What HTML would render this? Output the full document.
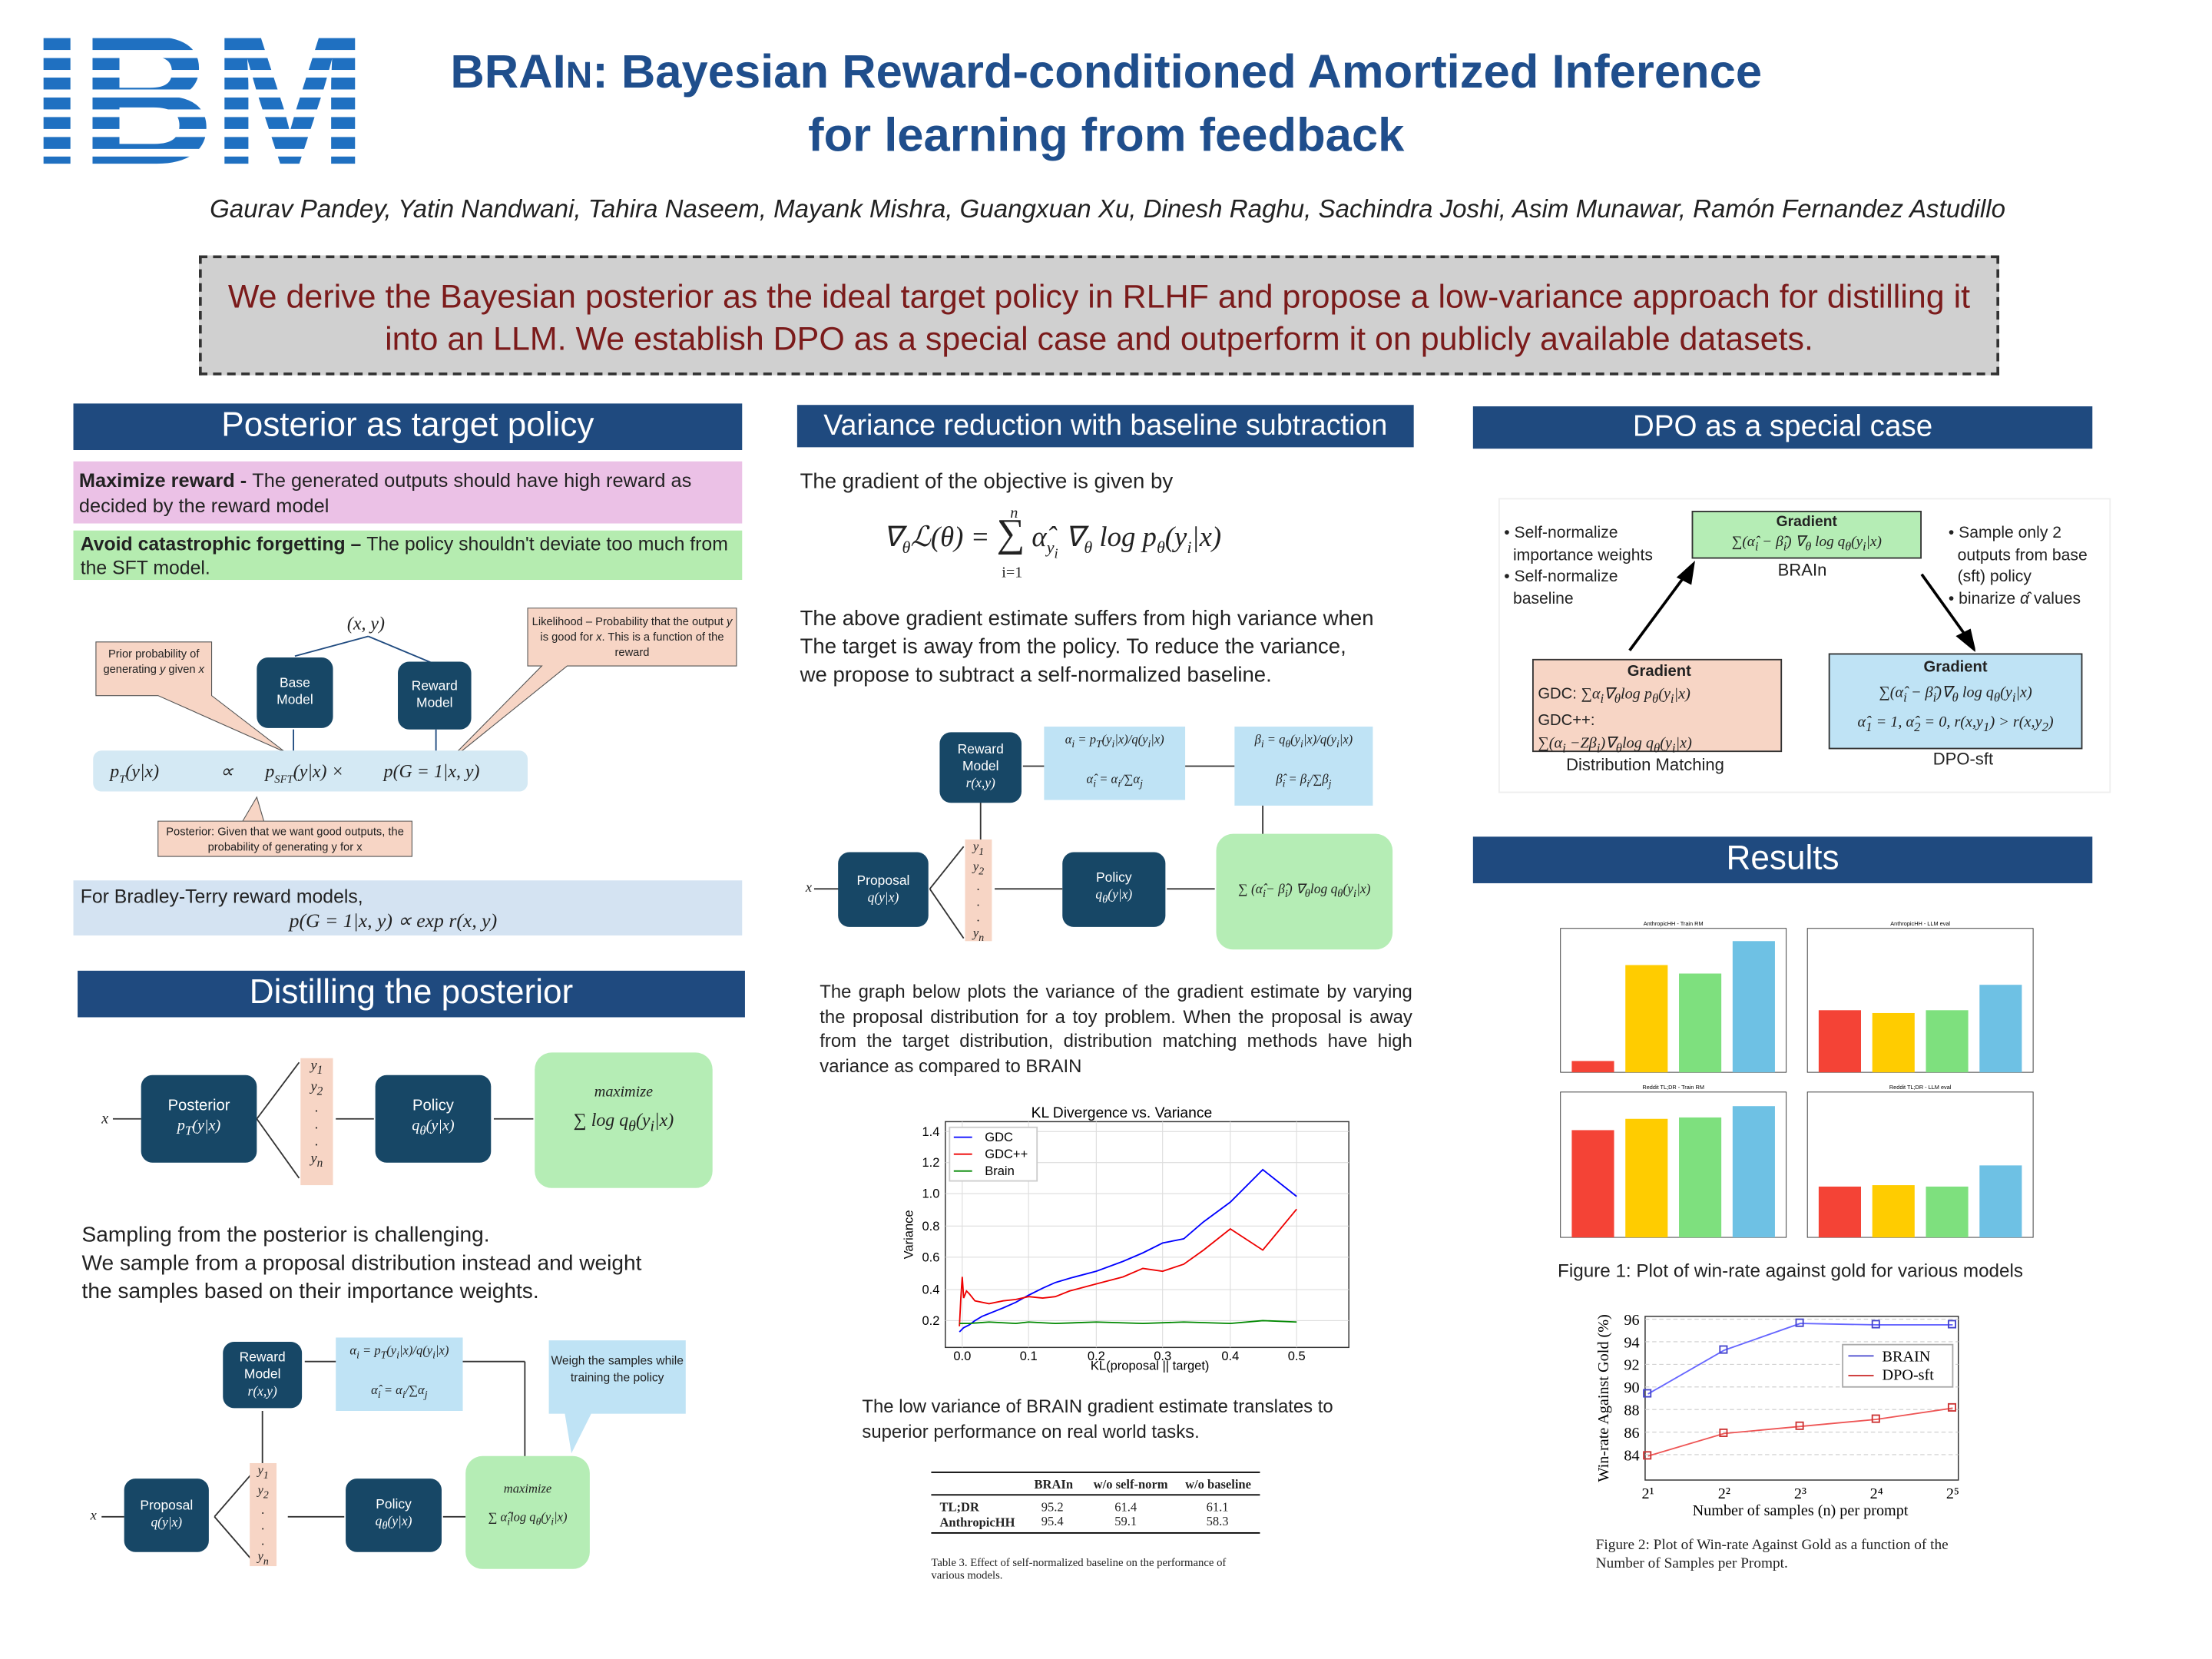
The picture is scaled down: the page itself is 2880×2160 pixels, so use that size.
<!DOCTYPE html>
<html><head><meta charset="utf-8">
<style>
html,body{margin:0;padding:0;background:#fff;}
body{width:2880px;height:2160px;overflow:hidden;}
#p{position:absolute;left:0;top:0;width:1568px;height:1176px;transform:scale(1.837);transform-origin:0 0;font-family:"Liberation Sans",sans-serif;color:#222;}
.a{position:absolute;}
.hd{position:absolute;background:#1f4a7f;color:#fff;text-align:center;font-size:23px;line-height:32px;}
.nd{position:absolute;background:#174766;color:#fff;border-radius:8px;text-align:center;font-size:9.5px;display:flex;align-items:center;justify-content:center;flex-direction:column;line-height:12px;}
.bl{position:absolute;background:#bfe3f5;font-size:9px;font-family:"Liberation Serif",serif;text-align:center;}
.gr{position:absolute;background:#b5edb5;border-radius:12px;font-family:"Liberation Serif",serif;text-align:center;font-size:11px;}
.ys{position:absolute;background:#f7d5c5;font-family:"Liberation Serif",serif;font-style:italic;font-size:10px;text-align:center;line-height:12px;}
.sr{font-family:"Liberation Serif",serif;}
.t15{font-size:15px;line-height:20px;}
</style></head><body><div id="p">
<!-- IBM logo -->
<div class="a" style="left:22px;top:10px;width:232px;height:122px;font-weight:bold;font-size:131px;letter-spacing:-2px;line-height:122px;font-family:'Liberation Sans',sans-serif;background:repeating-linear-gradient(#1f70c1 0 8.5px,#fff 8.5px 14px);background-position:0 17px;-webkit-background-clip:text;background-clip:text;color:transparent;transform:scaleX(1.01);transform-origin:0 0;">IBM</div>
<div class="a" style="left:240px;top:30px;width:1088px;text-align:center;color:#1f4e8c;font-weight:bold;font-size:33.5px;line-height:44px;">BRAI<span style="font-size:26px">N</span>: Bayesian Reward-conditioned Amortized Inference<br>for learning from feedback</div>
<div class="a" style="left:100px;top:138px;width:1370px;text-align:center;font-style:italic;font-size:18px;color:#222;">Gaurav Pandey, Yatin Nandwani, Tahira Naseem, Mayank Mishra, Guangxuan Xu, Dinesh Raghu, Sachindra Joshi, Asim Munawar, Ramón Fernandez Astudillo</div>
<div class="a" style="left:141px;top:181px;width:1276px;height:85px;background:#d0d0d0;border:2px dashed #333;color:#7b1b1b;font-size:23.4px;line-height:30px;text-align:center;padding-top:12px;box-sizing:border-box;white-space:nowrap;">We derive the Bayesian posterior as the ideal target policy in RLHF and propose a low-variance approach for distilling it<br>into an LLM. We establish DPO as a special case and outperform it on publicly available datasets.</div>

<!-- Column 1 -->
<div class="hd" style="left:52px;top:286px;width:474px;height:33px;font-size:24px;">Posterior as target policy</div>
<div class="a" style="left:52px;top:327px;width:474px;height:44px;background:#ebc1e6;font-size:13.8px;line-height:18px;padding:5px 4px;box-sizing:border-box;"><b>Maximize reward - </b>The generated outputs should have high reward as decided by the reward model</div>
<div class="a" style="left:52px;top:376px;width:474px;height:35px;background:#b5ecb0;font-size:13.5px;line-height:17px;padding:1px 5px;box-sizing:border-box;"><b>Avoid catastrophic forgetting – </b>The policy shouldn't deviate too much from the SFT model.</div>

<svg class="a" style="left:52px;top:425px" width="480" height="190">
<polygon points="16,30 98,30 98,68 150,108 60,68 16,68" fill="#f7d5c5" stroke="#555" stroke-width=".6"/>
<polygon points="322,6 470,6 470,47 350,47 262,118 332,47 322,47" fill="#f7d5c5" stroke="#555" stroke-width=".6"/>
<polygon points="60,157 240,157 240,182 60,182 60,157 120,157 130,140 135,157" fill="#f7d5c5" stroke="#555" stroke-width=".6"/>
<line x1="209" y1="26" x2="157" y2="40" stroke="#1f4a7f"/><line x1="209" y1="26" x2="257" y2="46" stroke="#1f4a7f"/>
<line x1="156" y1="92" x2="156" y2="108" stroke="#1f4a7f"/><line x1="257" y1="92" x2="257" y2="108" stroke="#1f4a7f"/>
</svg>
<div class="a" style="left:70px;top:458px;width:78px;font-size:8px;line-height:11px;text-align:center;">Prior probability of generating <i>y</i> given <i>x</i></div>
<div class="a" style="left:376px;top:435px;width:144px;font-size:8px;line-height:11px;text-align:center;">Likelihood – Probability that the output <i>y</i> is good for <i>x</i>. This is a function of the reward</div>
<div class="a" style="left:112px;top:584px;width:180px;font-size:8px;line-height:11px;text-align:center;">Posterior: Given that we want good outputs, the probability of generating y for x</div>
<div class="a sr" style="left:246px;top:434px;font-size:13px;font-style:italic;">(x, y)</div>
<div class="nd" style="left:182px;top:466px;width:54px;height:50px;">Base<br>Model</div>
<div class="nd" style="left:282px;top:469px;width:52px;height:48px;">Reward<br>Model</div>
<div class="a sr" style="left:66px;top:532px;width:308px;height:29px;background:#d4e9f4;border-radius:6px;font-size:13px;font-style:italic;line-height:29px;">
<span class="a" style="left:12px">p<sub style="font-size:8px">T</sub>(y|x)</span><span class="a" style="left:90px">∝</span><span class="a" style="left:122px">p<sub style="font-size:8px">SFT</sub>(y|x) ×</span><span class="a" style="left:206px">p(G = 1|x, y)</span></div>
<div class="a" style="left:52px;top:624px;width:474px;height:39px;background:#d4e3f2;font-size:13.5px;line-height:17px;padding:3px 5px;box-sizing:border-box;">For Bradley-Terry reward models,<br><span class="sr" style="padding-left:148px;font-style:italic;font-size:14px;">p(G = 1|x, y) ∝ exp r(x, y)</span></div>

<div class="hd" style="left:55px;top:688px;width:473px;height:33px;font-size:24px;">Distilling the posterior</div>
<svg class="a" style="left:60px;top:745px" width="470" height="100">
<g stroke="#333" fill="none"><line x1="20" y1="48" x2="40" y2="48"/><line x1="122" y1="48" x2="152" y2="8"/><line x1="122" y1="48" x2="152" y2="90"/><line x1="178" y1="48" x2="205" y2="48"/><line x1="290" y1="48" x2="318" y2="48"/></g>
</svg>
<div class="a sr" style="left:72px;top:787px;font-style:italic;font-size:11px;">x</div>
<div class="nd" style="left:100px;top:762px;width:82px;height:62px;font-size:11px;line-height:14px;">Posterior<br><i class="sr">p<sub>T</sub>(y|x)</i></div>
<div class="ys" style="left:213px;top:750px;width:23px;height:90px;">y<sub>1</sub><br>y<sub>2</sub><br>.<br>.<br>.<br>y<sub>n</sub></div>
<div class="nd" style="left:266px;top:762px;width:82px;height:62px;font-size:11px;line-height:14px;">Policy<br><i class="sr">q<sub>θ</sub>(y|x)</i></div>
<div class="gr" style="left:379px;top:746px;width:126px;height:96px;"><div style="margin-top:22px;font-style:italic;">maximize</div><div style="font-size:13px;margin-top:6px;">∑ <i>log q<sub>θ</sub>(y<sub>i</sub>|x)</i></div></div>
<div class="a" style="left:58px;top:866px;width:475px;font-size:15.3px;line-height:20px;">Sampling from the posterior is challenging.<br>We sample from a proposal distribution instead and weight<br>the samples based on their importance weights.</div>

<svg class="a" style="left:60px;top:945px" width="470" height="175">
<g stroke="#333" fill="none"><line x1="12" y1="130" x2="28" y2="130"/><line x1="92" y1="130" x2="118" y2="100"/><line x1="92" y1="130" x2="118" y2="160"/><line x1="126" y1="92" x2="126" y2="55"/><line x1="144" y1="130" x2="184" y2="130"/><line x1="156" y1="20" x2="312" y2="20"/><line x1="312" y1="20" x2="312" y2="88"/><line x1="254" y1="130" x2="270" y2="130"/></g>
<polygon points="340,55 360,55 345,85" fill="#bfe3f5"/>
</svg>
<div class="a sr" style="left:64px;top:1069px;font-style:italic;font-size:10px;">x</div>
<div class="nd" style="left:88px;top:1048px;width:60px;height:52px;">Proposal<br><i class="sr">q(y|x)</i></div>
<div class="ys" style="left:177px;top:1037px;width:19px;height:73px;font-size:9px;line-height:11px;">y<sub>1</sub><br>y<sub>2</sub><br>.<br>.<br>.<br>y<sub>n</sub></div>
<div class="nd" style="left:158px;top:951px;width:56px;height:47px;">Reward<br>Model<br><i class="sr">r(x,y)</i></div>
<div class="bl" style="left:238px;top:948px;width:90px;height:52px;line-height:12px;padding-top:3px;box-sizing:border-box;"><i>α<sub>i</sub> = p<sub>T</sub>(y<sub>i</sub>|x)/q(y<sub>i</sub>|x)</i><br><br><i>α̂<sub>i</sub> = α<sub>i</sub>/∑α<sub>j</sub></i></div>
<div class="bl" style="left:389px;top:950px;width:97px;height:52px;font-family:'Liberation Sans',sans-serif;font-size:8.5px;line-height:12px;padding-top:8px;box-sizing:border-box;">Weigh the samples while training the policy</div>
<div class="nd" style="left:245px;top:1048px;width:68px;height:52px;">Policy<br><i class="sr">q<sub>θ</sub>(y|x)</i></div>
<div class="gr" style="left:330px;top:1032px;width:88px;height:80px;font-size:9px;"><div style="margin-top:18px;font-style:italic;">maximize</div><div style="margin-top:10px;">∑ <i>α̂<sub>i</sub>log q<sub>θ</sub>(y<sub>i</sub>|x)</i></div></div>

<!-- Column 2 -->
<div class="hd" style="left:565px;top:287px;width:437px;height:30px;font-size:20.5px;line-height:30px;">Variance reduction with baseline subtraction</div>
<div class="a t15" style="left:567px;top:332px;">The gradient of the objective is given by</div>
<div class="a sr" style="left:626px;top:363px;font-size:20px;font-style:italic;">∇<sub style="font-size:12px">θ</sub>ℒ(θ) = <span style="font-size:28px;font-style:normal;">∑</span> α̂<sub style="font-size:12px">y<sub>i</sub></sub> ∇<sub style="font-size:12px">θ</sub> log p<sub style="font-size:12px">θ</sub>(y<sub style="font-size:12px">i</sub>|x)</div>
<div class="a sr" style="left:716px;top:358px;font-size:11px;font-style:italic;">n</div><div class="a sr" style="left:710px;top:400px;font-size:11px;">i=1</div>
<div class="a t15" style="left:567px;top:429px;width:440px;">The above gradient estimate suffers from high variance when<br>The target is away from the policy. To reduce the variance,<br>we propose to subtract a self-normalized baseline.</div>

<svg class="a" style="left:565px;top:510px" width="440" height="170">
<g stroke="#333" fill="none"><line x1="12" y1="120" x2="30" y2="120"/><line x1="94" y1="120" x2="118" y2="90"/><line x1="94" y1="120" x2="118" y2="155"/><line x1="130" y1="86" x2="130" y2="58"/><line x1="140" y1="120" x2="188" y2="120"/><line x1="160" y1="33" x2="176" y2="33"/><line x1="275" y1="33" x2="310" y2="33"/><line x1="330" y1="60" x2="330" y2="82"/><line x1="262" y1="120" x2="296" y2="120"/></g>
</svg>
<div class="a sr" style="left:571px;top:624px;font-style:italic;font-size:10px;">x</div>
<div class="nd" style="left:594px;top:604px;width:64px;height:53px;">Proposal<br><i class="sr">q(y|x)</i></div>
<div class="ys" style="left:684px;top:595px;width:19px;height:72px;font-size:9px;line-height:11px;">y<sub>1</sub><br>y<sub>2</sub><br>.<br>.<br>.<br>y<sub>n</sub></div>
<div class="nd" style="left:666px;top:519px;width:58px;height:50px;">Reward<br>Model<br><i class="sr">r(x,y)</i></div>
<div class="bl" style="left:740px;top:515px;width:100px;height:52px;line-height:12px;padding-top:3px;box-sizing:border-box;"><i>α<sub>i</sub> = p<sub>T</sub>(y<sub>i</sub>|x)/q(y<sub>i</sub>|x)</i><br><br><i>α̂<sub>i</sub> = α<sub>i</sub>/∑α<sub>j</sub></i></div>
<div class="bl" style="left:875px;top:515px;width:98px;height:56px;line-height:12px;padding-top:3px;box-sizing:border-box;"><i>β<sub>i</sub> = q<sub>θ</sub>(y<sub>i</sub>|x)/q(y<sub>i</sub>|x)</i><br><br><i>β̂<sub>i</sub> = β<sub>i</sub>/∑β<sub>j</sub></i></div>
<div class="nd" style="left:753px;top:604px;width:73px;height:53px;">Policy<br><i class="sr">q<sub>θ</sub>(y|x)</i></div>
<div class="gr" style="left:862px;top:591px;width:125px;height:82px;font-size:9.5px;"><div style="margin-top:34px;">∑ <i>(α̂<sub>i</sub>− β̂<sub>i</sub>) ∇<sub>θ</sub>log q<sub>θ</sub>(y<sub>i</sub>|x)</i></div></div>
<div class="a" style="left:581px;top:694px;width:420px;font-size:13px;line-height:17.5px;text-align:justify;">The graph below plots the variance of the gradient estimate by varying the proposal distribution for a toy problem. When the proposal is away from the target distribution, distribution matching methods have high variance as compared to BRAIN</div>

<svg class="a" style="left:625px;top:770px" width="336" height="205" font-family="Liberation Sans" font-size="9">
<text x="170" y="22" text-anchor="middle" font-size="10.5">KL Divergence vs. Variance</text>
<rect x="45" y="25" width="286" height="160" fill="none" stroke="#333" stroke-width=".8"/>
<g stroke="#ddd" stroke-width=".6"><line x1="45" y1="166" x2="331" y2="166"/><line x1="45" y1="144" x2="331" y2="144"/><line x1="45" y1="121" x2="331" y2="121"/><line x1="45" y1="99" x2="331" y2="99"/><line x1="45" y1="76" x2="331" y2="76"/><line x1="45" y1="54" x2="331" y2="54"/><line x1="45" y1="32" x2="331" y2="32"/>
<line x1="57" y1="25" x2="57" y2="185"/><line x1="104" y1="25" x2="104" y2="185"/><line x1="152" y1="25" x2="152" y2="185"/><line x1="199" y1="25" x2="199" y2="185"/><line x1="247" y1="25" x2="247" y2="185"/><line x1="294" y1="25" x2="294" y2="185"/></g>
<g text-anchor="end"><text x="41" y="169">0.2</text><text x="41" y="147">0.4</text><text x="41" y="124">0.6</text><text x="41" y="102">0.8</text><text x="41" y="79">1.0</text><text x="41" y="57">1.2</text><text x="41" y="35">1.4</text></g>
<g text-anchor="middle"><text x="57" y="194">0.0</text><text x="104" y="194">0.1</text><text x="152" y="194">0.2</text><text x="199" y="194">0.3</text><text x="247" y="194">0.4</text><text x="294" y="194">0.5</text><text x="190" y="201">KL(proposal || target)</text></g>
<text x="22" y="105" transform="rotate(-90 22 105)" text-anchor="middle">Variance</text>
<polyline fill="none" stroke="#00f" points="55,174 58,171 62,169 66,166 71,163 76,161 81,159 86,157 95,153 104,148 114,143 123,139 133,136 152,131 171,124 185,118 199,111 214,108 228,96 247,82 270,59 294,78" />
<polyline fill="none" stroke="#e00" points="55,170 56,150 57,135 58,150 60,145 62,147 66,152 76,154 86,152 95,151 104,149 114,150 123,149 133,145 152,140 171,135 185,129 199,131 214,126 228,116 247,101 270,116 294,87"/>
<polyline fill="none" stroke="#080" points="55,168 62,168 76,167 95,168 104,167 123,168 152,167 185,168 214,167 247,168 270,166 294,167"/>
<rect x="48" y="29" width="62" height="38" fill="#fff" stroke="#ccc"/>
<line x1="51" y1="36" x2="64" y2="36" stroke="#00f"/><text x="73" y="39">GDC</text>
<line x1="51" y1="48" x2="64" y2="48" stroke="#e00"/><text x="73" y="51">GDC++</text>
<line x1="51" y1="60" x2="64" y2="60" stroke="#080"/><text x="73" y="63">Brain</text>
</svg>
<div class="a" style="left:611px;top:988px;width:390px;font-size:13px;line-height:18px;">The low variance of BRAIN gradient estimate translates to<br>superior performance on real world tasks.</div>
<div class="a sr" style="left:660px;top:1043px;width:233px;font-size:9px;">
<div style="border-top:1px solid #000;border-bottom:.6px solid #000;height:15px;font-weight:bold;position:relative;"><span class="a" style="left:73px;top:3px">BRAIn</span><span class="a" style="left:115px;top:3px">w/o self-norm</span><span class="a" style="left:180px;top:3px">w/o baseline</span></div>
<div style="position:relative;height:26px;border-bottom:1px solid #000;font-weight:bold;"><span class="a" style="left:6px;top:3px">TL;DR</span><span class="a" style="left:6px;top:14px">AnthropicHH</span><span class="a" style="left:78px;top:3px;font-weight:normal">95.2<br>95.4</span><span class="a" style="left:130px;top:3px;font-weight:normal">61.4<br>59.1</span><span class="a" style="left:195px;top:3px;font-weight:normal">61.1<br>58.3</span></div>
<div style="font-size:8px;margin-top:16px;">Table 3. Effect of self-normalized baseline on the performance of various models.</div></div>

<!-- Column 3 -->
<div class="hd" style="left:1044px;top:288px;width:439px;height:30px;font-size:21px;line-height:30px;">DPO as a special case</div>
<div class="a" style="left:1062px;top:353px;width:432px;height:207px;border:1px solid #eee;"></div>
<div class="a" style="left:1066px;top:371px;font-size:11.5px;line-height:15.5px;">• Self-normalize<br>&nbsp;&nbsp;importance weights<br>• Self-normalize<br>&nbsp;&nbsp;baseline</div>
<div class="a" style="left:1381px;top:371px;font-size:11.5px;line-height:15.5px;">• Sample only 2<br>&nbsp;&nbsp;outputs from base<br>&nbsp;&nbsp;(sft) policy<br>• binarize <i>α̂</i> values</div>
<div class="a" style="left:1199px;top:362px;width:161px;height:32px;background:#b5edb5;border:1px solid #333;font-size:10.5px;text-align:center;line-height:14px;"><b>Gradient</b><br><span class="sr" style="font-style:italic;">∑(α̂<sub>i</sub> − β̂<sub>i</sub>) ∇<sub>θ</sub> log q<sub>θ</sub>(y<sub>i</sub>|x)</span></div>
<div class="a" style="left:1260px;top:397px;font-size:12px;">BRAIn</div>
<svg class="a" style="left:1140px;top:395px" width="260" height="70"><g stroke="#000" stroke-width="2" fill="#000"><line x1="15" y1="66" x2="55" y2="12"/><polygon points="60,5 50,14 58,18"/><line x1="222" y1="12" x2="255" y2="58"/><polygon points="259,65 248,56 256,52"/></g></svg>
<div class="a" style="left:1086px;top:467px;width:177px;height:66px;background:#f7d5c5;border:1px solid #333;font-size:11px;line-height:16px;padding-left:3px;box-sizing:border-box;"><div style="text-align:center;font-weight:bold;">Gradient</div>GDC: <i class="sr">∑α<sub>i</sub>∇<sub>θ</sub>log p<sub>θ</sub>(y<sub>i</sub>|x)</i><br>GDC++:<br><i class="sr">∑(α<sub>i</sub> −Zβ<sub>i</sub>)∇<sub>θ</sub>log q<sub>θ</sub>(y<sub>i</sub>|x)</i></div>
<div class="a" style="left:1110px;top:535px;font-size:12px;">Distribution Matching</div>
<div class="a" style="left:1296px;top:463px;width:178px;height:66px;background:#bfe3f5;border:1px solid #333;font-size:11px;line-height:18px;text-align:center;"><b>Gradient</b><br><i class="sr">∑(α̂<sub>i</sub> − β̂<sub>i</sub>)∇<sub>θ</sub> log q<sub>θ</sub>(y<sub>i</sub>|x)</i><br><i class="sr">α̂<sub>1</sub> = 1, α̂<sub>2</sub> = 0, r(x,y<sub>1</sub>) &gt; r(x,y<sub>2</sub>)</i></div>
<div class="a" style="left:1370px;top:531px;font-size:12px;">DPO-sft</div>

<div class="hd" style="left:1044px;top:593px;width:439px;height:33px;font-size:24px;">Results</div>
<svg class="a" style="left:1096px;top:652px" width="400" height="235" font-family="Liberation Sans" font-size="4">
<g id="c1"><rect x="10" y="6" width="160" height="102" fill="none" stroke="#333" stroke-width=".5"/>
<rect x="18" y="100" width="30" height="8" fill="#f44336"/><rect x="56" y="32" width="30" height="76" fill="#ffcc00"/><rect x="94" y="38" width="30" height="70" fill="#7ee07e"/><rect x="132" y="15" width="30" height="93" fill="#6ec1e4"/>
<text x="90" y="4" text-anchor="middle">AnthropicHH - Train RM</text></g>
<g transform="translate(180,0)"><rect x="5" y="6" width="160" height="102" fill="none" stroke="#333" stroke-width=".5"/>
<rect x="13" y="64" width="30" height="44" fill="#f44336"/><rect x="51" y="66" width="30" height="42" fill="#ffcc00"/><rect x="89" y="64" width="30" height="44" fill="#7ee07e"/><rect x="127" y="46" width="30" height="62" fill="#6ec1e4"/><text x="85" y="4" text-anchor="middle">AnthropicHH - LLM eval</text></g>
<g transform="translate(0,116)"><rect x="10" y="6" width="160" height="103" fill="none" stroke="#333" stroke-width=".5"/>
<rect x="18" y="33" width="30" height="76" fill="#f44336"/><rect x="56" y="25" width="30" height="84" fill="#ffcc00"/><rect x="94" y="24" width="30" height="85" fill="#7ee07e"/><rect x="132" y="16" width="30" height="93" fill="#6ec1e4"/><text x="90" y="4" text-anchor="middle">Reddit TL;DR - Train RM</text></g>
<g transform="translate(180,116)"><rect x="5" y="6" width="160" height="103" fill="none" stroke="#333" stroke-width=".5"/>
<rect x="13" y="73" width="30" height="36" fill="#f44336"/><rect x="51" y="72" width="30" height="37" fill="#ffcc00"/><rect x="89" y="73" width="30" height="36" fill="#7ee07e"/><rect x="127" y="58" width="30" height="51" fill="#6ec1e4"/><text x="85" y="4" text-anchor="middle">Reddit TL;DR - LLM eval</text></g>
</svg>
<div class="a" style="left:1104px;top:893px;font-size:13.2px;">Figure 1: Plot of win-rate against gold for various models</div>
<svg class="a" style="left:1128px;top:925px" width="280" height="155" font-family="Liberation Serif" font-size="11">
<rect x="38" y="8" width="222" height="116" fill="none" stroke="#333" stroke-width=".8"/>
<g stroke="#ccc" stroke-dasharray="3,2" stroke-width=".6"><line x1="38" y1="10" x2="260" y2="10"/><line x1="38" y1="26" x2="260" y2="26"/><line x1="38" y1="42" x2="260" y2="42"/><line x1="38" y1="58" x2="260" y2="58"/><line x1="38" y1="74" x2="260" y2="74"/><line x1="38" y1="90" x2="260" y2="90"/><line x1="38" y1="106" x2="260" y2="106"/></g>
<g text-anchor="end"><text x="34" y="14">96</text><text x="34" y="30">94</text><text x="34" y="46">92</text><text x="34" y="62">90</text><text x="34" y="78">88</text><text x="34" y="94">86</text><text x="34" y="110">84</text></g>
<g text-anchor="middle"><text x="40" y="137">2¹</text><text x="94" y="137">2²</text><text x="148" y="137">2³</text><text x="202" y="137">2⁴</text><text x="256" y="137">2⁵</text><text x="148" y="149">Number of samples (n) per prompt</text></g>
<text x="12" y="66" transform="rotate(-90 12 66)" text-anchor="middle">Win-rate Against Gold (%)</text>
<polyline fill="none" stroke="#66f" points="40,63 94,32 148,13 202,14 256,14"/>
<polyline fill="none" stroke="#e55" points="40,107 94,91 148,86 202,81 256,73"/>
<g fill="none" stroke="#44c"><rect x="37" y="60" width="5" height="5"/><rect x="91" y="29" width="5" height="5"/><rect x="145" y="10" width="5" height="5"/><rect x="199" y="11" width="5" height="5"/><rect x="253" y="11" width="5" height="5"/></g>
<g fill="none" stroke="#c33"><rect x="37" y="104" width="5" height="5"/><rect x="91" y="88" width="5" height="5"/><rect x="145" y="83" width="5" height="5"/><rect x="199" y="78" width="5" height="5"/><rect x="253" y="70" width="5" height="5"/></g>
<rect x="178" y="28" width="78" height="30" fill="#fff" stroke="#aaa"/>
<line x1="182" y1="36" x2="200" y2="36" stroke="#44c"/><text x="206" y="40">BRAIN</text>
<line x1="182" y1="50" x2="200" y2="50" stroke="#c33"/><text x="206" y="53">DPO-sft</text>
</svg>
<div class="a sr" style="left:1131px;top:1089px;width:270px;font-size:10.5px;line-height:13px;">Figure 2: Plot of Win-rate Against Gold as a function of the Number of Samples per Prompt.</div>
</div></body></html>
